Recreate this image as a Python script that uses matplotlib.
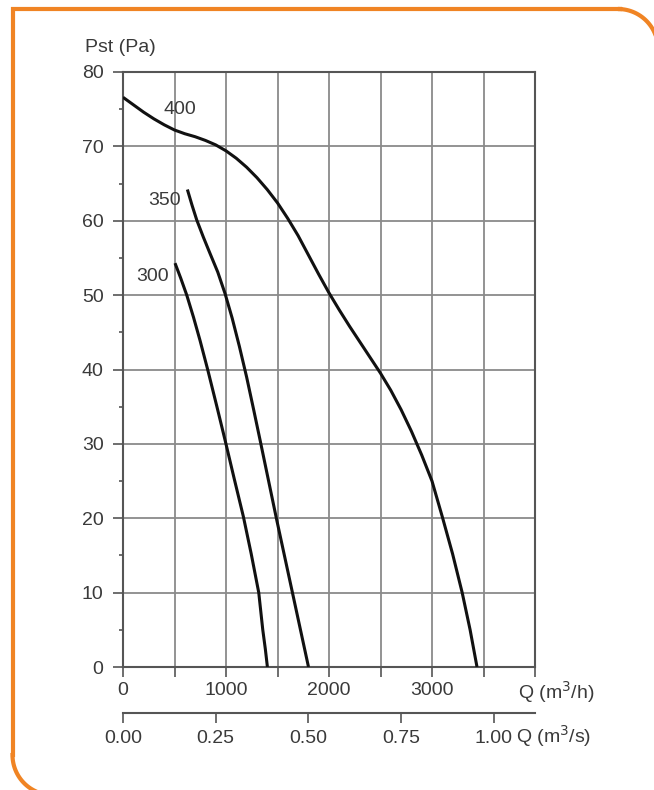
import numpy as np
import matplotlib
matplotlib.use('Agg')
import matplotlib.pyplot as plt

plt.rcParams['font.family'] = ['Liberation Sans', 'DejaVu Sans']

# fan curves: flow Q (m3/h) vs static pressure Pst (Pa)
q400 = [0, 100, 200, 300, 400, 500, 600, 700, 800, 900, 1000, 1100, 1200, 1300, 1400, 1500,
        1600, 1700, 1800, 1900, 2000, 2100, 2200, 2300, 2400, 2500, 2600, 2700, 2800, 2900,
        3000, 3100, 3200, 3293, 3370, 3437]
p400 = [76.6, 75.6, 74.6, 73.7, 72.9, 72.2, 71.7, 71.3, 70.8, 70.2, 69.4, 68.4, 67.2, 65.8, 64.2, 62.4,
        60.3, 58.0, 55.4, 52.8, 50.3, 48.0, 45.8, 43.7, 41.6, 39.5, 37.2, 34.6, 31.7, 28.5,
        25.0, 20.2, 15.2, 10.0, 5.0, 0]

q350 = [625, 670, 716, 780, 845, 920, 991, 1060, 1130, 1200, 1270, 1334, 1489, 1645, 1801]
p350 = [64.2, 62.1, 60.1, 57.8, 55.6, 53.1, 50.2, 46.9, 43.1, 39.0, 34.5, 30.3, 20.0, 10.0, 0]

q300 = [505, 560, 619, 685, 748, 822, 910, 991, 1080, 1169, 1245, 1318, 1357, 1382, 1402]
p300 = [54.3, 52.3, 50.0, 47.0, 43.9, 40.0, 35.1, 30.5, 25.3, 20.2, 15.2, 10.0, 5.0, 2.4, 0]

curve_names = ['400', '350', '300']
label_pos = [(555, 74.9), (408, 62.7), (287, 52.5)]

x_labels = [0, 1000, 2000, 3000]
s_ticks = [0.0, 0.25, 0.5, 0.75, 1.0]

txt = '#3a3a3a'
grid_c = '#8a8a8a'
fs = 14

fig = plt.figure(figsize=(6.54, 7.90), dpi=100)

ax = fig.add_axes([123 / 654, 1 - 667 / 790, 412 / 654, 595 / 790])
ax.set_xlim(0, 4000)
ax.set_ylim(0, 80)

for q, p in [(q400, p400), (q350, p350), (q300, p300)]:
    ax.plot(q, p, color='#111111', linewidth=2.2, solid_capstyle='butt', solid_joinstyle='round', zorder=3)

for name, (lx, ly) in zip(curve_names, label_pos):
    ax.text(lx, ly, name, fontsize=fs, color=txt, ha='center', va='center')

ax.set_xticks(np.arange(0, 4001, 500))
ax.set_xticklabels([str(v) if v in x_labels else '' for v in range(0, 4001, 500)])
ax.set_yticks(np.arange(0, 81, 10))
ax.set_yticks(np.arange(5, 80, 10), minor=True)
ax.grid(True, which='major', color=grid_c, linewidth=1.3)
ax.tick_params(axis='both', which='major', length=7, width=1.2, color='#555555',
               labelsize=fs, labelcolor=txt)
ax.tick_params(axis='x', pad=4)
ax.tick_params(axis='y', pad=7)
ax.tick_params(axis='y', which='minor', length=3, width=1.2, color='#555555')
for s in ax.spines.values():
    s.set_color('#555555')
    s.set_linewidth(1.5)
ax.set_axisbelow(True)

fig.text(85 / 654, 1 - 48 / 790, 'Pst (Pa)', fontsize=fs, color=txt, ha='left', va='center')
fig.text(518 / 654, 1 - 692 / 790, 'Q (m$^3$/h)', fontsize=fs, color=txt, ha='left', va='center')

# second flow scale in m3/s
ax2 = fig.add_axes([123 / 654, 1 - 713 / 790, 412 / 654, 0.0001])
ax2.set_xlim(0, 4000 / 3600)
ax2.set_ylim(0, 1)
ax2.set_xticks(s_ticks)
ax2.set_xticklabels(['%.2f' % v for v in s_ticks])
ax2.set_yticks([])
for k in ['top', 'left', 'right']:
    ax2.spines[k].set_visible(False)
ax2.spines['bottom'].set_color('#555555')
ax2.spines['bottom'].set_linewidth(1.5)
ax2.tick_params(axis='x', length=7, width=1.2, color='#555555', labelsize=fs,
                labelcolor=txt, pad=5)
ax2.patch.set_visible(False)
fig.text(516 / 654, 1 - 736 / 790, 'Q (m$^3$/s)', fontsize=fs, color=txt, ha='left', va='center')

# orange frame around the chart
fr = fig.add_axes([0, 0, 1, 1], zorder=-1)
fr.set_xlim(0, 654)
fr.set_ylim(790, 0)
fr.axis('off')
r = 40
t1 = np.linspace(-np.pi / 2, 0, 30)
t2 = np.linspace(np.pi, np.pi / 2, 30)
bx = np.concatenate([[620], 618 + r * np.cos(t1), [658]])
by = np.concatenate([[9], 49 + r * np.sin(t1), [800]])
fr.plot([12.5, 12.5, 620], [755, 9, 9], color='#F08424', linewidth=3, solid_joinstyle='miter')
fr.plot(bx, by, color='#F08424', linewidth=3)
fr.plot(52.5 + r * np.cos(t2), 755 + r * np.sin(t2), color='#F08424', linewidth=3)
fr.plot([52.5, 700], [795, 795], color='#F08424', linewidth=3)

fig.savefig('out.png', dpi=100)
